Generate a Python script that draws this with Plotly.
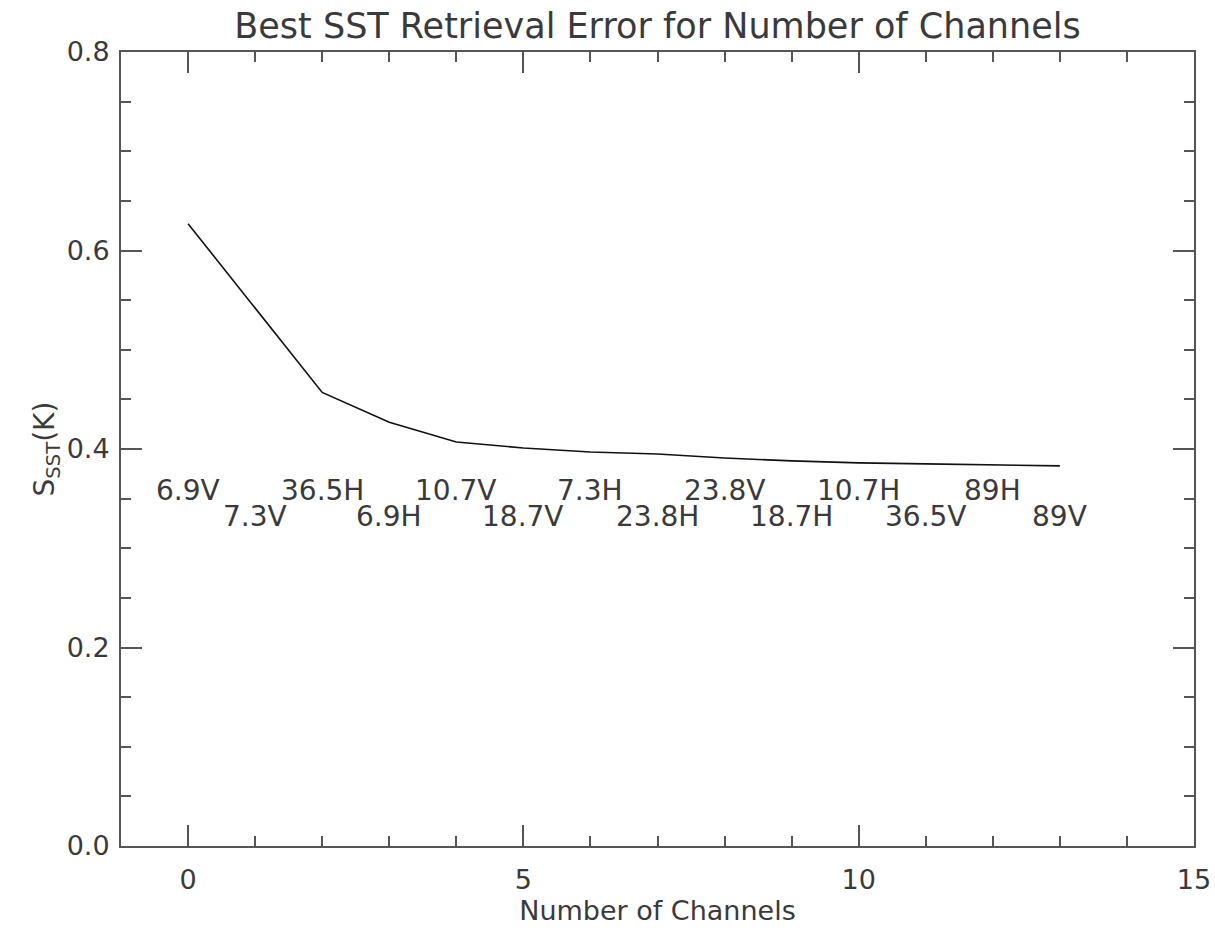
import plotly.graph_objects as go

# Data
n_channels = list(range(14))
sst_error = [0.627, 0.542, 0.457, 0.427, 0.407, 0.401, 0.397, 0.395,
             0.391, 0.388, 0.386, 0.385, 0.384, 0.383]
channel_labels = ["6.9V", "7.3V", "36.5H", "6.9H", "10.7V", "18.7V", "7.3H",
                  "23.8H", "23.8V", "18.7H", "10.7H", "36.5V", "89H", "89V"]
label_y_upper = 0.358
label_y_lower = 0.332

FONT = "DejaVu Sans"
GREY = "#3a3a3a"

fig = go.Figure()
fig.add_trace(go.Scatter(x=n_channels, y=sst_error, mode="lines",
                         line=dict(color="#111111", width=1.6),
                         showlegend=False, hoverinfo="skip"))

for i, lab in enumerate(channel_labels):
    fig.add_annotation(x=n_channels[i], y=label_y_upper if i % 2 == 0 else label_y_lower,
                       text=lab, showarrow=False, xanchor="center", yanchor="middle",
                       font=dict(family=FONT, size=28, color=GREY))

axis_common = dict(showline=True, linecolor="#555555", linewidth=2, mirror="allticks",
                   ticks="inside", tickcolor="#555555", tickwidth=1.5, ticklen=21,
                   showgrid=False, zeroline=False, ticklabeloverflow="allow",
                   automargin=False,
                   tickfont=dict(family=FONT, size=27, color=GREY))

fig.update_xaxes(range=[-1, 15], tickvals=[0, 5, 10, 15], ticktext=["0", "5", "10", "15"],
                 minor=dict(ticks="inside", ticklen=10, tickcolor="#555555", dtick=1, tick0=0,
                            tickwidth=1.5, showgrid=False),
                 title=dict(text="Number of Channels", font=dict(family=FONT, size=27, color=GREY),
                            standoff=6),
                 ticklabelstandoff=9,
                 **axis_common)
fig.update_yaxes(range=[0, 0.8], tickvals=[0, 0.2, 0.4, 0.6, 0.8],
                 ticktext=["0.0", "0.2", "0.4", "0.6", "0.8"],
                 minor=dict(ticks="inside", ticklen=10, tickcolor="#555555", dtick=0.05, tick0=0,
                            tickwidth=1.5, showgrid=False),
                 title=dict(text="S<sub>SST</sub>(K)", font=dict(family=FONT, size=28, color=GREY),
                            standoff=4),
                 ticklabelstandoff=4,
                 **axis_common)

fig.update_layout(
    width=1215, height=931,
    margin=dict(l=121, r=21, t=52, b=85),
    paper_bgcolor="white", plot_bgcolor="white",
    title=dict(text="Best SST Retrieval Error for Number of Channels",
               xref="paper", x=0.5, xanchor="center", y=0.972, yanchor="middle",
               font=dict(family=FONT, size=35, color=GREY)),
)

fig.write_html("out.html", config={"displayModeBar": False},
               post_script="document.body.style.margin='0';document.body.style.overflow='hidden';")
